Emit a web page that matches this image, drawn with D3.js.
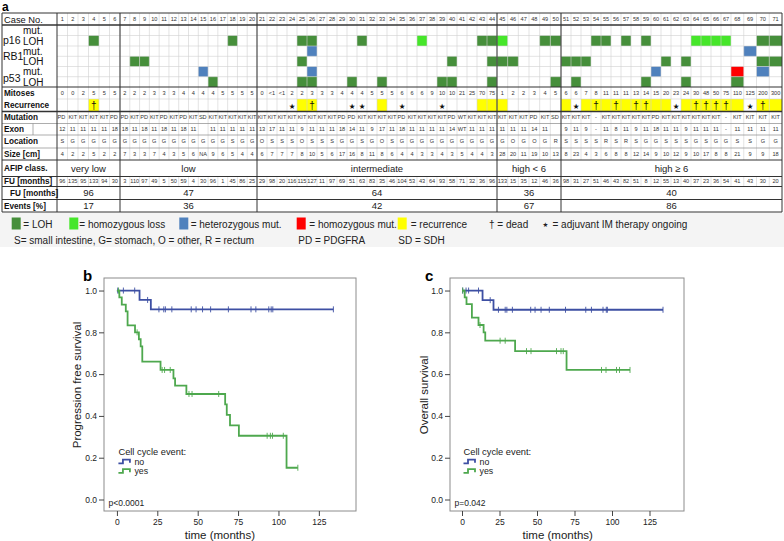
<!DOCTYPE html>
<html><head><meta charset="utf-8">
<script src="https://cdn.jsdelivr.net/npm/d3@7"></script>
<style>html,body{margin:0;padding:0;background:#fff;}svg{display:block;font-family:"Liberation Sans",Arial,sans-serif;}</style>
</head><body>
<svg id="fig" width="784" height="541"></svg>
<script>
// ---------------- DATA ----------------
const caseNo = [1,2,3,4,5,6,7,8,9,10,11,12,13,14,15,16,17,18,19,20,21,22,23,24,25,26,27,28,29,30,31,32,33,34,35,36,37,38,39,40,41,42,43,44,45,46,47,48,49,50,51,52,53,54,55,56,57,58,59,60,61,62,63,64,65,66,67,68,69,70,71];
const mitoses = ["0","0","2","5","5","5","2","2","2","3","3","3","4","4","4","4","5","5","5","5","0","<1","<1","2","2","3","3","3","4","4","4","5","5","5","6","6","6","9","10","10","21","25","70","75","1","2","2","3","4","5","6","6","7","8","11","11","11","13","14","15","20","23","24","30","48","50","75","110","125","200","300"];
const mutation = ["PDGFRA","KIT","KIT","KIT","KIT","PDGFRA","PDGFRA","KIT","PDGFRA","KIT","PDGFRA","KIT","PDGFRA","KIT","SDH","KIT","KIT","KIT","KIT","KIT","KIT","KIT","KIT","KIT","KIT","KIT","KIT","KIT","PDGFRA","PDGFRA","KIT","KIT","KIT","KIT","PDGFRA","KIT","KIT","KIT","KIT","PDGFRA","WT","KIT","KIT","KIT","KIT","KIT","KIT","PDGFRA","KIT","SDH","KIT","KIT","KIT","-","KIT","KIT","KIT","KIT","KIT","PDGFRA","KIT","KIT","KIT","KIT","KIT","KIT","-","KIT","KIT","KIT","KIT"];
const exon = ["12","11","11","11","11","18","18","11","18","11","18","11","18","11","","11","11","11","11","11","13","17","11","11","9","11","11","11","18","14","11","9","17","11","18","11","11","11","11","14","WT","11","11","11","11","11","11","14","11","","9","11","9","-","11","8","11","9","11","18","11","11","9","11","11","11","-","11","11","11","11"];
const tumorSite = ["S","G","G","G","G","G","G","G","G","G","G","G","G","G","G","G","G","S","G","G","O","S","S","S","O","S","S","S","G","G","S","G","O","S","G","G","G","G","G","G","G","G","G","G","G","O","G","O","G","R","S","S","S","S","R","S","R","S","G","G","S","S","S","G","S","G","G","S","S","G","G"];
const sizeCm = ["4","2","2","5","2","2","7","3","3","7","4","3","5","6","NA","9","6","5","4","4","6","7","7","7","8","10","5","6","17","16","8","11","8","6","4","4","3","3","4","3","5","4","4","3","28","20","11","19","10","13","8","23","4","3","6","8","8","12","14","9","10","12","9","10","17","8","8","21","9","9","18"];
const fuMonths = ["96","135","95","133","94","30","3","110","97","49","5","50","59","4","30","96","1","45","86","25","29","98","20","116","115","127","11","97","69","51","63","83","35","46","104","53","43","64","93","58","71","32","36","96","133","15","35","12","46","36","98","31","27","51","46","43","82","51","8","12","55","13","40","37","23","36","54","41","43","30","20"];
const recurrenceCases = [4,25,26,33,43,44,45,51,53,54,55,56,57,58,59,60,61,63,64,65,66,67,68,70,71];
const deadCases = [4,26,54,56,58,59,64,65,66,67,70];
const imOngoingCases = [24,30,31,35,39,52,62,69];
// gene alteration rows: [case, type]
const p16Mut = [];
const p16Loh = [[4,"LOH"],[18,"LOH"],[25,"LOH"],[26,"LOH"],[31,"LOH"],[37,"HOM"],[43,"LOH"],[44,"LOH"],[45,"HOM"],[49,"LOH"],[50,"LOH"],[54,"LOH"],[55,"LOH"],[57,"LOH"],[59,"LOH"],[64,"HOM"],[65,"HOM"],[66,"HOM"],[67,"HOM"],[70,"LOH"],[71,"LOH"]];
const rb1Mut = [[26,"HET"],[69,"HET"]];
const rb1Loh = [[8,"LOH"],[9,"LOH"],[25,"LOH"],[40,"LOH"],[44,"LOH"],[45,"LOH"],[46,"LOH"],[51,"LOH"],[52,"LOH"],[53,"LOH"],[61,"LOH"],[63,"LOH"],[70,"LOH"],[71,"LOH"]];
const p53Mut = [[15,"HET"],[26,"HET"],[60,"HET"],[68,"HOMMUT"],[70,"HET"]];
const p53Loh = [[16,"LOH"],[25,"LOH"],[26,"LOH"],[30,"LOH"],[33,"LOH"],[39,"LOH"],[40,"LOH"],[44,"LOH"],[50,"LOH"],[52,"LOH"],[59,"LOH"],[63,"LOH"],[68,"LOH"]];
const afipClasses = ["very low","low","intermediate","high < 6","high \u2265 6"];
const afipLastCase = [6,20,44,50,71];
const fuMedian = ["96","47","64","36","40"];
const eventsPct = ["17","36","42","67","86"];

// Kaplan-Meier: steps [time, survival], censor marks [time, survival]
const pfsNoSteps = [[0,1],[14,0.955],[21,0.91],[134,0.91]];
const pfsNoCensor = [[0.5,1],[4,1],[11,1],[19,0.955],[26,0.91],[29,0.91],[30,0.91],[34,0.91],[46,0.91],[49,0.91],[53,0.91],[58,0.91],[69,0.91],[83,0.91],[86,0.91],[94,0.91],[95.5,0.91],[96.5,0.91],[134,0.91]];
const pfsYesSteps = [[0,1],[1.5,0.967],[3,0.933],[5.5,0.9],[6.6,0.833],[11.2,0.8],[13.6,0.767],[14.7,0.733],[15.7,0.66],[27,0.62],[35,0.58],[36,0.545],[43,0.505],[67,0.455],[68,0.405],[70,0.355],[75.5,0.305],[105,0.152],[112,0.152]];
const pfsYesCensor = [[1,1],[12.5,0.8],[28,0.62],[29.5,0.62],[33,0.62],[44.6,0.505],[46.5,0.505],[63,0.505],[93,0.305],[95,0.305],[96.3,0.305],[103,0.305],[112,0.152]];
const osNoSteps = [[0,1],[13.7,0.954],[21,0.908],[134,0.908]];
const osNoCensor = [[0.4,1],[2.7,1],[4.4,1],[11,1],[18.8,0.954],[24.3,0.908],[28.8,0.908],[29.9,0.908],[33.6,0.908],[45.8,0.908],[48.7,0.908],[52.7,0.908],[58.2,0.908],[69,0.908],[82.5,0.908],[86.3,0.908],[94,0.908],[96.2,0.908],[96.9,0.908],[134,0.908]];
const osYesSteps = [[0,1],[1.8,0.967],[3,0.935],[6.6,0.87],[11,0.835],[14.4,0.8],[15.5,0.76],[35.4,0.71],[69.7,0.62],[112,0.62]];
const osYesCensor = [[0.5,1],[12,0.835],[25.4,0.76],[28.8,0.76],[43,0.71],[46,0.71],[63,0.71],[66,0.71],[67.5,0.71],[93,0.62],[96,0.62],[103,0.62],[105,0.62],[112,0.62]];
const yTicks = [0,0.2,0.4,0.6,0.8,1.0];
const xTicks = [0,25,50,75,100,125];

// ---------------- LAYOUT ----------------
const svg = d3.select("#fig");
const colors = {LOH:"#468f3b", HOM:"#46e62a", HET:"#4f81bd", HOMMUT:"#ff0000", REC:"#ffff00"};
const xCase = d3.scaleLinear().domain([0,6,20,44,50,67,71]).range([57,120,257,497,561,731,782]);
const rows = {caseNo:[13,25], p16mut:[25,35.5], p16loh:[35.5,46], rb1mut:[46,56.3], rb1loh:[56.3,66.5],
  p53mut:[66.5,76.7], p53loh:[76.7,87], mitoses:[87,99], recurrence:[99,111.5], mutation:[111.5,123.5],
  exon:[123.5,135], site:[135,148], size:[148,160], afip:[160,176.5], fu:[176.5,186.5],
  fuMed:[186.5,199.5], events:[199.5,212]};
const cx0 = c => xCase(c-1), cx1 = c => xCase(c), cxm = c => (xCase(c-1)+xCase(c))/2;
const ym = r => (rows[r][0]+rows[r][1])/2;

svg.append("rect").attr("width",784).attr("height",541).attr("fill","#fff");
svg.append("rect").attr("x",0).attr("y",212.5).attr("width",784).attr("height",34.5).attr("fill","#f4f4f4");
svg.append("text").attr("x",2).attr("y",11.2).attr("font-size",12).attr("font-weight","bold").text("a");

const tbl = svg.append("g");
const geneRows = [["p16mut",p16Mut],["p16loh",p16Loh],["rb1mut",rb1Mut],["rb1loh",rb1Loh],["p53mut",p53Mut],["p53loh",p53Loh]];
geneRows.forEach(([r,arr]) => {
  tbl.selectAll(null).data(arr).join("rect")
    .attr("x",d=>cx0(d[0])).attr("width",d=>cx1(d[0])-cx0(d[0]))
    .attr("y",rows[r][0]).attr("height",rows[r][1]-rows[r][0])
    .attr("fill",d=>colors[d[1]]);
});
tbl.selectAll(null).data(recurrenceCases).join("rect")
  .attr("x",d=>cx0(d)).attr("width",d=>cx1(d)-cx0(d))
  .attr("y",rows.recurrence[0]).attr("height",rows.recurrence[1]-rows.recurrence[0])
  .attr("fill",colors.REC);

[[13,160],[176.5,186.5]].forEach(([y0,y1]) => {
  tbl.selectAll(null).data(caseNo.slice(0,-1)).join("line")
    .attr("x1",d=>xCase(d)).attr("x2",d=>xCase(d)).attr("y1",y0).attr("y2",y1)
    .attr("stroke","#d0d0d0").attr("stroke-width",0.6);
});
[35.5,46,56.3,66.5,76.7,99].forEach(y => {
  tbl.append("line").attr("x1",57).attr("x2",782).attr("y1",y).attr("y2",y).attr("stroke","#d0d0d0").attr("stroke-width",0.6);
});
[123.5,135,148].forEach(y => {
  tbl.append("line").attr("x1",2).attr("x2",782).attr("y1",y).attr("y2",y).attr("stroke","#8a8a8a").attr("stroke-width",0.7);
});
[[13,1],[25,1.3],[87,1.2],[111.5,1.3],[160,1],[176.5,1],[186.5,1],[199.5,1],[212,1]].forEach(([y,w]) => {
  tbl.append("line").attr("x1",2).attr("x2",782).attr("y1",y).attr("y2",y).attr("stroke","#333").attr("stroke-width",w);
});
[2,57].concat(afipLastCase.map(c=>xCase(c))).forEach(x => {
  tbl.append("line").attr("x1",x).attr("x2",x).attr("y1",13).attr("y2",212).attr("stroke","#333").attr("stroke-width",1);
});
tbl.append("line").attr("x1",33).attr("x2",33).attr("y1",123.5).attr("y2",135).attr("stroke","#8a8a8a").attr("stroke-width",0.7);

const lab = tbl.append("g").attr("fill","#111");
lab.append("text").attr("x",4).attr("y",19.4).attr("dy","0.35em").attr("font-size",9.3).text("Case No.");
[["p16",40.5,"p16mut","p16loh"],["RB1",56.5,"rb1mut","rb1loh"],["p53",78.5,"p53mut","p53loh"]].forEach(([g,y,m,l]) => {
  lab.append("text").attr("x",3).attr("y",y).attr("dy","0.35em").attr("font-size",10.5).text(g);
  lab.append("text").attr("x",23).attr("y",ym(m)).attr("dy","0.35em").attr("font-size",10).text("mut.");
  lab.append("text").attr("x",23).attr("y",ym(l)+0.5).attr("dy","0.35em").attr("font-size",10).text("LOH");
});
[["mitoses","Mitoses",4],["recurrence","Recurrence",4],["mutation","Mutation",4],["exon","Exon",4],["site","Location",4],["size","Size [cm]",4],["afip","AFIP class.",4],["fu","FU [months]",4],["fuMed","FU [months]",10],["events","Events [%]",4]].forEach(([r,t,x]) => {
  lab.append("text").attr("x",x).attr("y",ym(r)).attr("dy","0.35em").attr("font-size",8.2).attr("font-weight","bold").text(t);
});

// cell texts; labels too wide for their cell are cut to the part that fits (as in the source table)
function cellText(r, arr, truncate) {
  arr.forEach((t,i) => {
    const c = caseNo[i];
    const w = cx1(c)-cx0(c);
    const tx = tbl.append("text").attr("x",cxm(c)).attr("y",ym(r)).attr("dy","0.35em")
      .attr("font-size",5.6).attr("fill","#333").attr("text-anchor","middle").text(t);
    if (truncate && tx.node().getComputedTextLength() > w-0.8) {
      let s = t;
      while (s.length > 1 && tx.text(s).node().getComputedTextLength() > w-1.2) s = s.slice(0,-1);
      tx.attr("text-anchor","start").attr("x",cx0(c)+0.6);
    }
  });
}
cellText("caseNo", caseNo.map(String), false);
cellText("mitoses", mitoses, false);
cellText("mutation", mutation, true);
cellText("exon", exon, false);
cellText("site", tumorSite, false);
cellText("size", sizeCm, false);
cellText("fu", fuMonths, false);

tbl.selectAll(null).data(deadCases).join("text").attr("x",d=>cxm(d)).attr("y",ym("recurrence")+0.5).attr("dy","0.35em")
  .attr("text-anchor","middle").attr("font-size",10).attr("fill","#111").text("\u2020");
tbl.selectAll(null).data(imOngoingCases).join("text").attr("x",d=>cxm(d)).attr("y",ym("recurrence")+0.8).attr("dy","0.35em")
  .attr("text-anchor","middle").attr("font-size",7.5).attr("font-family","DejaVu Sans").attr("fill","#111").text("\u2605");

const secStart = [0].concat(afipLastCase.slice(0,-1));
afipClasses.forEach((t,i) => {
  const xm = (xCase(secStart[i])+xCase(afipLastCase[i]))/2;
  tbl.append("text").attr("x",xm).attr("y",ym("afip")+0.5).attr("dy","0.35em").attr("text-anchor","middle").attr("font-size",9.5).attr("fill","#222").text(t);
  tbl.append("text").attr("x",xm).attr("y",ym("fuMed")).attr("dy","0.35em").attr("text-anchor","middle").attr("font-size",9.5).attr("fill","#222").text(fuMedian[i]);
  tbl.append("text").attr("x",xm).attr("y",ym("events")).attr("dy","0.35em").attr("text-anchor","middle").attr("font-size",9.5).attr("fill","#222").text(eventsPct[i]);
});

const leg = svg.append("g").attr("font-size",10).attr("fill","#222");
const legItems = [["LOH","= LOH",11.7,23.3],["HOM","= homozygous loss",69.3,79.3],["HET","= heterozygous mut.",179.3,190.7],["HOMMUT","= homozygous mut.",296.7,309.3],["REC","= recurrence",397.7,410.7]];
legItems.forEach(([k,t,sx,tx]) => {
  leg.append("rect").attr("x",sx).attr("y",217.5).attr("width",9).attr("height",12).attr("fill",colors[k]);
  leg.append("text").attr("x",tx).attr("y",224).attr("dy","0.35em").text(t);
});
leg.append("text").attr("x",489).attr("y",224).attr("dy","0.35em").text("\u2020 = dead");
leg.append("text").attr("x",542.5).attr("y",224.5).attr("dy","0.35em").attr("font-size",6.5).attr("font-family","DejaVu Sans").text("\u2605");
leg.append("text").attr("x",552.5).attr("y",224).attr("dy","0.35em").text("= adjuvant IM therapy ongoing");
leg.append("text").attr("x",14).attr("y",240).attr("dy","0.35em").text("S= small intestine, G= stomach, O = other, R = rectum");
leg.append("text").attr("x",298.3).attr("y",240).attr("dy","0.35em").text("PD = PDGFRA");
leg.append("text").attr("x",398.3).attr("y",240).attr("dy","0.35em").text("SD = SDH");

const kmBlue = "#3d4fa3", kmGreen = "#4ea84e";
function kmPanel(opt) {
  const g = svg.append("g");
  const x = d3.scaleLinear().domain([-8,148]).range([opt.left,opt.right]);
  const y = d3.scaleLinear().domain([-0.055,1.06]).range([511,278]);
  g.append("text").attr("x",opt.labX).attr("y",281).attr("font-size",15).attr("font-weight","bold").text(opt.label);
  g.append("rect").attr("x",opt.left).attr("y",278).attr("width",opt.right-opt.left).attr("height",233)
    .attr("fill","none").attr("stroke","#8c8c8c").attr("stroke-width",1);
  const ya = g.append("g").attr("transform",`translate(${opt.left},0)`)
    .call(d3.axisLeft(y).tickValues(yTicks).tickFormat(d3.format(".1f")).tickSize(5).tickPadding(2));
  const xa = g.append("g").attr("transform","translate(0,511)")
    .call(d3.axisBottom(x).tickValues(xTicks).tickSize(5).tickPadding(3));
  [ya,xa].forEach(a => {
    a.select(".domain").remove();
    a.selectAll(".tick line").attr("stroke","#444");
    a.selectAll(".tick text").attr("font-size",8.5).attr("fill","#222").attr("font-family","Liberation Sans, Arial, sans-serif");
  });
  g.append("text").attr("transform",`translate(${opt.yTitleX},${opt.yTitleY}) rotate(-90)`).attr("text-anchor","middle")
    .attr("font-size",11.5).attr("fill","#222").text(opt.yTitle);
  g.append("text").attr("x",(x(0)+x(125))/2+2).attr("y",535).attr("dy","0.35em").attr("text-anchor","middle")
    .attr("font-size",11.5).attr("fill","#222").text("time (months)");
  const line = d3.line().x(d=>x(d[0])).y(d=>y(d[1])).curve(d3.curveStepAfter);
  [[opt.noSteps,opt.noCensor,kmBlue],[opt.yesSteps,opt.yesCensor,kmGreen]].forEach(([s,c,col]) => {
    g.append("path").attr("d",line(s)).attr("fill","none").attr("stroke",col).attr("stroke-width",1.8);
    g.selectAll(null).data(c).join("line").attr("x1",d=>x(d[0])).attr("x2",d=>x(d[0]))
      .attr("y1",d=>y(d[1])-3).attr("y2",d=>y(d[1])+3).attr("stroke",col).attr("stroke-width",0.9);
  });
  const lx = x(0)+1.5;
  g.append("text").attr("x",lx).attr("y",451.5).attr("dy","0.35em").attr("font-size",9.3).attr("fill","#222").text("Cell cycle event:");
  [[461.5,kmBlue,"no"],[471,kmGreen,"yes"]].forEach(([yy,col,t]) => {
    g.append("path").attr("d",`M${lx},${yy+1.8}H${lx+4.5}V${yy-1.8}H${lx+11.5}V${yy+1.2}`).attr("fill","none").attr("stroke",col).attr("stroke-width",1.8);
    g.append("text").attr("x",lx+16).attr("y",yy).attr("dy","0.35em").attr("font-size",8.8).attr("fill","#222").text(t);
  });
  g.append("text").attr("x",opt.left+4.5).attr("y",503.5).attr("dy","0.35em").attr("font-size",8.5).attr("fill","#222").text(opt.p);
}
kmPanel({left:104,right:356,label:"b",labX:83,yTitle:"Progression free survival",yTitleX:81,yTitleY:385,
  noSteps:pfsNoSteps,noCensor:pfsNoCensor,yesSteps:pfsYesSteps,yesCensor:pfsYesCensor,p:"p<0.0001"});
kmPanel({left:450,right:684,label:"c",labX:425,yTitle:"Overall survival",yTitleX:428,yTitleY:395,
  noSteps:osNoSteps,noCensor:osNoCensor,yesSteps:osYesSteps,yesCensor:osYesCensor,p:"p=0.042"});
</script>
</body></html>
